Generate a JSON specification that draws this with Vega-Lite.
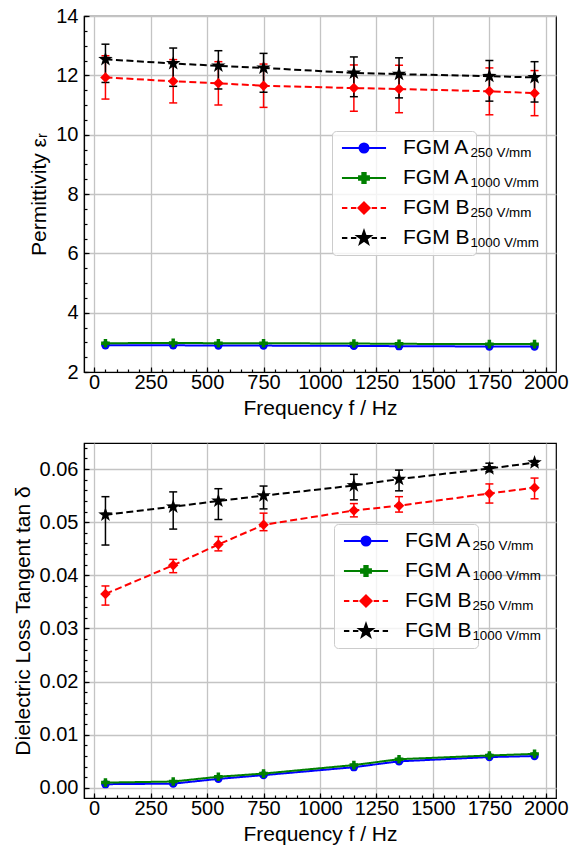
{
  "$schema": "https://vega.github.io/schema/vega-lite/v6.json",
  "background": "white",
  "padding": {"left": 11, "top": 5, "right": 0, "bottom": 0},
  "spacing": 23,
  "config": {
    "font": "Liberation Sans",
    "view": {"stroke": "black", "strokeWidth": 1.2},
    "axis": {
      "labelFont": "Liberation Sans", "labelFontSize": 20, "labelColor": "black",
      "titleFont": "Liberation Sans", "titleFontSize": 21, "titleFontWeight": "normal", "titleColor": "black",
      "domainColor": "black", "domainWidth": 1.2, "tickColor": "black", "tickWidth": 1.2,
      "gridColor": "#c4c4c4", "gridWidth": 1.3, "grid": true
    },
    "legend": {"labelFont": "Liberation Sans", "labelColor": "black"}
  },
  "datasets": {
    "perm": [
      {"freq": 50, "key": "A250", "series": "FGM A250 V/mm", "value": 2.90},
      {"freq": 350, "key": "A250", "series": "FGM A250 V/mm", "value": 2.90},
      {"freq": 550, "key": "A250", "series": "FGM A250 V/mm", "value": 2.89},
      {"freq": 750, "key": "A250", "series": "FGM A250 V/mm", "value": 2.89},
      {"freq": 1150, "key": "A250", "series": "FGM A250 V/mm", "value": 2.88},
      {"freq": 1350, "key": "A250", "series": "FGM A250 V/mm", "value": 2.87},
      {"freq": 1750, "key": "A250", "series": "FGM A250 V/mm", "value": 2.86},
      {"freq": 1950, "key": "A250", "series": "FGM A250 V/mm", "value": 2.86},
      {"freq": 50, "key": "A1000", "series": "FGM A1000 V/mm", "value": 2.97},
      {"freq": 350, "key": "A1000", "series": "FGM A1000 V/mm", "value": 2.98},
      {"freq": 550, "key": "A1000", "series": "FGM A1000 V/mm", "value": 2.97},
      {"freq": 750, "key": "A1000", "series": "FGM A1000 V/mm", "value": 2.97},
      {"freq": 1150, "key": "A1000", "series": "FGM A1000 V/mm", "value": 2.96},
      {"freq": 1350, "key": "A1000", "series": "FGM A1000 V/mm", "value": 2.95},
      {"freq": 1750, "key": "A1000", "series": "FGM A1000 V/mm", "value": 2.94},
      {"freq": 1950, "key": "A1000", "series": "FGM A1000 V/mm", "value": 2.94},
      {"freq": 50, "key": "B250", "series": "FGM B250 V/mm", "value": 11.93, "lo": 11.20, "hi": 12.66},
      {"freq": 350, "key": "B250", "series": "FGM B250 V/mm", "value": 11.80, "lo": 11.07, "hi": 12.53},
      {"freq": 550, "key": "B250", "series": "FGM B250 V/mm", "value": 11.73, "lo": 11.00, "hi": 12.46},
      {"freq": 750, "key": "B250", "series": "FGM B250 V/mm", "value": 11.65, "lo": 10.92, "hi": 12.38},
      {"freq": 1150, "key": "B250", "series": "FGM B250 V/mm", "value": 11.57, "lo": 10.79, "hi": 12.35},
      {"freq": 1350, "key": "B250", "series": "FGM B250 V/mm", "value": 11.54, "lo": 10.74, "hi": 12.34},
      {"freq": 1750, "key": "B250", "series": "FGM B250 V/mm", "value": 11.46, "lo": 10.67, "hi": 12.25},
      {"freq": 1950, "key": "B250", "series": "FGM B250 V/mm", "value": 11.40, "lo": 10.64, "hi": 12.16},
      {"freq": 50, "key": "B1000", "series": "FGM B1000 V/mm", "value": 12.54, "lo": 11.76, "hi": 13.05},
      {"freq": 350, "key": "B1000", "series": "FGM B1000 V/mm", "value": 12.40, "lo": 11.63, "hi": 12.92},
      {"freq": 550, "key": "B1000", "series": "FGM B1000 V/mm", "value": 12.32, "lo": 11.54, "hi": 12.83},
      {"freq": 750, "key": "B1000", "series": "FGM B1000 V/mm", "value": 12.25, "lo": 11.43, "hi": 12.74},
      {"freq": 1150, "key": "B1000", "series": "FGM B1000 V/mm", "value": 12.08, "lo": 11.28, "hi": 12.62},
      {"freq": 1350, "key": "B1000", "series": "FGM B1000 V/mm", "value": 12.04, "lo": 11.24, "hi": 12.59},
      {"freq": 1750, "key": "B1000", "series": "FGM B1000 V/mm", "value": 11.97, "lo": 11.13, "hi": 12.50},
      {"freq": 1950, "key": "B1000", "series": "FGM B1000 V/mm", "value": 11.93, "lo": 11.10, "hi": 12.46}
    ],
    "loss": [
      {"freq": 50, "key": "A250", "series": "FGM A250 V/mm", "value": 0.0007},
      {"freq": 350, "key": "A250", "series": "FGM A250 V/mm", "value": 0.0008},
      {"freq": 550, "key": "A250", "series": "FGM A250 V/mm", "value": 0.0017},
      {"freq": 750, "key": "A250", "series": "FGM A250 V/mm", "value": 0.0024},
      {"freq": 1150, "key": "A250", "series": "FGM A250 V/mm", "value": 0.0039},
      {"freq": 1350, "key": "A250", "series": "FGM A250 V/mm", "value": 0.0050},
      {"freq": 1750, "key": "A250", "series": "FGM A250 V/mm", "value": 0.0058},
      {"freq": 1950, "key": "A250", "series": "FGM A250 V/mm", "value": 0.0060},
      {"freq": 50, "key": "A1000", "series": "FGM A1000 V/mm", "value": 0.0010},
      {"freq": 350, "key": "A1000", "series": "FGM A1000 V/mm", "value": 0.0012},
      {"freq": 550, "key": "A1000", "series": "FGM A1000 V/mm", "value": 0.0021},
      {"freq": 750, "key": "A1000", "series": "FGM A1000 V/mm", "value": 0.0027},
      {"freq": 1150, "key": "A1000", "series": "FGM A1000 V/mm", "value": 0.0043},
      {"freq": 1350, "key": "A1000", "series": "FGM A1000 V/mm", "value": 0.0054},
      {"freq": 1750, "key": "A1000", "series": "FGM A1000 V/mm", "value": 0.0061},
      {"freq": 1950, "key": "A1000", "series": "FGM A1000 V/mm", "value": 0.0064},
      {"freq": 50, "key": "B250", "series": "FGM B250 V/mm", "value": 0.0365, "lo": 0.0344, "hi": 0.0380},
      {"freq": 350, "key": "B250", "series": "FGM B250 V/mm", "value": 0.0419, "lo": 0.0405, "hi": 0.0430},
      {"freq": 550, "key": "B250", "series": "FGM B250 V/mm", "value": 0.0458, "lo": 0.0446, "hi": 0.0473},
      {"freq": 750, "key": "B250", "series": "FGM B250 V/mm", "value": 0.0495, "lo": 0.0484, "hi": 0.0517},
      {"freq": 1150, "key": "B250", "series": "FGM B250 V/mm", "value": 0.0522, "lo": 0.0510, "hi": 0.0535},
      {"freq": 1350, "key": "B250", "series": "FGM B250 V/mm", "value": 0.0531, "lo": 0.0519, "hi": 0.0548},
      {"freq": 1750, "key": "B250", "series": "FGM B250 V/mm", "value": 0.0554, "lo": 0.0536, "hi": 0.0572},
      {"freq": 1950, "key": "B250", "series": "FGM B250 V/mm", "value": 0.0565, "lo": 0.0544, "hi": 0.0583},
      {"freq": 50, "key": "B1000", "series": "FGM B1000 V/mm", "value": 0.0514, "lo": 0.0457, "hi": 0.0548},
      {"freq": 350, "key": "B1000", "series": "FGM B1000 V/mm", "value": 0.0529, "lo": 0.0487, "hi": 0.0557},
      {"freq": 550, "key": "B1000", "series": "FGM B1000 V/mm", "value": 0.0540, "lo": 0.0505, "hi": 0.0563},
      {"freq": 750, "key": "B1000", "series": "FGM B1000 V/mm", "value": 0.0550, "lo": 0.0525, "hi": 0.0568},
      {"freq": 1150, "key": "B1000", "series": "FGM B1000 V/mm", "value": 0.0569, "lo": 0.0542, "hi": 0.0590},
      {"freq": 1350, "key": "B1000", "series": "FGM B1000 V/mm", "value": 0.0581, "lo": 0.0559, "hi": 0.0598},
      {"freq": 1750, "key": "B1000", "series": "FGM B1000 V/mm", "value": 0.0601, "lo": 0.0595, "hi": 0.0611},
      {"freq": 1950, "key": "B1000", "series": "FGM B1000 V/mm", "value": 0.0612, "lo": 0.0608, "hi": 0.0616}
    ]
  },
  "resolve": {
    "scale": {"color": "independent", "stroke": "independent", "strokeDash": "independent", "shape": "independent"},
    "legend": {"color": "independent", "stroke": "independent", "strokeDash": "independent", "shape": "independent"}
  },
  "vconcat": [
    {
      "width": 472, "height": 356,
      "data": {"name": "perm"},
      "resolve": {"axis": {"x": "independent", "y": "independent"}},
      "layer": [
        {
          "encoding": {
            "x": {"field": "freq", "type": "quantitative", "scale": {"domain": [-45, 2045], "nice": false, "zero": false},
                  "axis": {"values": [0, 250, 500, 750, 1000, 1250, 1500, 1750, 2000], "format": "d", "title": "Frequency f / Hz", "tickSize": -5, "labelPadding": 5, "titlePadding": 5}},
            "y": {"field": "value", "type": "quantitative", "title": "Permittivity εᵣ", "scale": {"domain": [2, 14], "nice": false, "zero": false},
                  "axis": {"values": [2, 4, 6, 8, 10, 12, 14], "format": "d", "tickSize": -5, "labelPadding": 11, "titlePadding": 6}}
          },
          "layer": [
            {
              "mark": {"type": "line", "strokeWidth": 2},
              "encoding": {
                "color": {"field": "series", "type": "nominal",
                  "scale": {"domain": ["FGM A250 V/mm", "FGM A1000 V/mm", "FGM B250 V/mm", "FGM B1000 V/mm"], "range": ["#0000ff", "#008000", "#ff0000", "#000000"]}},
                "strokeDash": {"field": "key", "type": "nominal",
                  "scale": {"domain": ["A250", "A1000", "B250", "B1000"], "range": [[1, 0], [1, 0], [7, 3.5], [7, 3.5]]},
                  "legend": {"orient": "none", "legendX": 373, "legendY": 126, "title": null, "padding": 0,
                    "symbolSize": 81, "symbolOpacity": 0, "symbolStrokeColor": "transparent", "labelOffset": 0, "labelFontSize": 13.4, "labelLimit": 0,
                    "clipHeight": 22, "rowPadding": 8,
                    "labelExpr": "slice(datum.label, 1) + ' V/mm'"}}
              }
            },
            {
              "transform": [{"filter": "datum.key === 'B250'"}],
              "mark": {"type": "errorbar", "ticks": {"opacity": 1}, "rule": {"opacity": 1}, "size": 8, "thickness": 1.5, "color": "#ff0000"},
              "encoding": {"y": {"field": "lo", "type": "quantitative", "title": "Permittivity εᵣ"}, "y2": {"field": "hi"}}
            },
            {
              "transform": [{"filter": "datum.key === 'B1000'"}],
              "mark": {"type": "errorbar", "ticks": {"opacity": 1}, "rule": {"opacity": 1}, "size": 8, "thickness": 1.5, "color": "#000000"},
              "encoding": {"y": {"field": "lo", "type": "quantitative", "title": "Permittivity εᵣ"}, "y2": {"field": "hi"}}
            },
            {"transform": [{"filter": "datum.key === 'A250'"}], "mark": {"type": "point", "shape": "circle", "size": 70, "filled": true, "opacity": 1, "color": "#0000ff"}},
            {"transform": [{"filter": "datum.key === 'A1000'"}], "mark": {"type": "point", "shape": "cross", "size": 75, "filled": true, "opacity": 1, "color": "#008000"}},
            {"transform": [{"filter": "datum.key === 'B250'"}], "mark": {"type": "point", "shape": "M0,-1L1,0L0,1L-1,0Z", "size": 110, "filled": true, "opacity": 1, "color": "#ff0000"}},
            {"transform": [{"filter": "datum.key === 'B1000'"}], "mark": {"type": "point", "shape": "M0,-1L0.235,-0.324L0.951,-0.309L0.38,0.124L0.588,0.809L0,0.4L-0.588,0.809L-0.38,0.124L-0.951,-0.309L-0.235,-0.324Z", "size": 230, "filled": true, "opacity": 1, "color": "#000000"}},
            {
              "mark": {"type": "point", "filled": true, "opacity": 0, "size": 81, "strokeWidth": 2},
              "encoding": {
                "color": {"field": "series", "type": "nominal",
                  "legend": {"orient": "none", "legendX": 248, "legendY": 115, "title": null, "padding": 6,
                    "fillColor": "rgba(255,255,255,0.8)", "strokeColor": "#cccccc", "cornerRadius": 4,
                    "symbolSize": 81, "symbolOffset": 15.5, "symbolStrokeWidth": 2, "symbolOpacity": 1,
                    "labelOffset": 28.5, "labelFontSize": 21, "labelLimit": 0, "clipHeight": 22, "rowPadding": 8,
                    "labelExpr": "slice(datum.label, 0, 5) + '\u00a0\u00a0\u00a0\u00a0\u00a0\u00a0\u00a0\u00a0\u00a0\u00a0\u00a0\u00a0\u00a0\u00a0\u00a0'"}},
                "stroke": {"field": "series", "type": "nominal",
                  "scale": {"domain": ["FGM A250 V/mm", "FGM A1000 V/mm", "FGM B250 V/mm", "FGM B1000 V/mm"], "range": ["#0000ff", "#008000", "#ff0000", "#000000"]},
                  "legend": {"orient": "none", "legendX": 248, "legendY": 115, "title": null, "padding": 6,
                    "fillColor": "rgba(255,255,255,0.8)", "strokeColor": "#cccccc", "cornerRadius": 4,
                    "symbolSize": 81, "symbolOffset": 15.5, "symbolStrokeWidth": 2, "symbolOpacity": 1,
                    "labelOffset": 28.5, "labelFontSize": 21, "labelLimit": 0, "clipHeight": 22, "rowPadding": 8,
                    "labelExpr": "slice(datum.label, 0, 5) + '\u00a0\u00a0\u00a0\u00a0\u00a0\u00a0\u00a0\u00a0\u00a0\u00a0\u00a0\u00a0\u00a0\u00a0\u00a0'"}},
                "shape": {"field": "series", "type": "nominal",
                  "scale": {"domain": ["FGM A250 V/mm", "FGM A1000 V/mm", "FGM B250 V/mm", "FGM B1000 V/mm"],
                    "range": [
                      "M-4.9,0L4.9,0M1,0A1,1,0,1,1,-1,0A1,1,0,1,1,1,0Z",
                      "M-4.9,0L4.9,0M-0.37,-1.1L0.37,-1.1L0.37,-0.37L1.1,-0.37L1.1,0.37L0.37,0.37L0.37,1.1L-0.37,1.1L-0.37,0.37L-1.1,0.37L-1.1,-0.37L-0.37,-0.37Z",
                      "M-4.9,0L-3.7,0M-2.9,0L-1.7,0M1.7,0L2.9,0M3.7,0L4.9,0M0,-1.25L1.25,0L0,1.25L-1.25,0Z",
                      "M-4.9,0L-3.7,0M-2.9,0L-1.7,0M1.7,0L2.9,0M3.7,0L4.9,0M0,-1.55L0.364,-0.502L1.474,-0.479L0.589,0.192L0.911,1.254L0,0.62L-0.911,1.254L-0.589,0.192L-1.474,-0.479L-0.364,-0.502Z"]},
                  "legend": {"orient": "none", "legendX": 248, "legendY": 115, "title": null, "padding": 6,
                    "fillColor": "rgba(255,255,255,0.8)", "strokeColor": "#cccccc", "cornerRadius": 4,
                    "symbolSize": 81, "symbolOffset": 15.5, "symbolStrokeWidth": 2, "symbolOpacity": 1,
                    "labelOffset": 28.5, "labelFontSize": 21, "labelLimit": 0, "clipHeight": 22, "rowPadding": 8,
                    "labelExpr": "slice(datum.label, 0, 5) + '\u00a0\u00a0\u00a0\u00a0\u00a0\u00a0\u00a0\u00a0\u00a0\u00a0\u00a0\u00a0\u00a0\u00a0\u00a0'"}}
              }
            }
          ]
        },
        {
          "mark": {"type": "point", "opacity": 0},
          "encoding": {
            "x": {"field": "freq", "type": "quantitative",
                  "axis": {"orient": "bottom", "values": [0, 50, 100, 150, 200, 250, 300, 350, 400, 450, 500, 550, 600, 650, 700, 750, 800, 850, 900, 950, 1000, 1050, 1100, 1150, 1200, 1250, 1300, 1350, 1400, 1450, 1500, 1550, 1600, 1650, 1700, 1750, 1800, 1850, 1900, 1950, 2000], "labels": false, "grid": false, "domain": false, "tickSize": -3, "title": null}},
            "y": {"field": "value", "type": "quantitative",
                  "axis": {"orient": "left", "values": [2, 2.5, 3, 3.5, 4, 4.5, 5, 5.5, 6, 6.5, 7, 7.5, 8, 8.5, 9, 9.5, 10, 10.5, 11, 11.5, 12, 12.5, 13, 13.5, 14], "labels": false, "grid": false, "domain": false, "tickSize": -3, "title": null}}
          }
        }
      ]
    },
    {
      "width": 472, "height": 355,
      "data": {"name": "loss"},
      "resolve": {"axis": {"x": "independent", "y": "independent"}},
      "layer": [
        {
          "encoding": {
            "x": {"field": "freq", "type": "quantitative", "scale": {"domain": [-45, 2045], "nice": false, "zero": false},
                  "axis": {"values": [0, 250, 500, 750, 1000, 1250, 1500, 1750, 2000], "format": "d", "title": "Frequency f / Hz", "tickSize": -5, "labelPadding": 5, "titlePadding": 5}},
            "y": {"field": "value", "type": "quantitative", "title": "Dielectric Loss Tangent tan δ", "scale": {"domain": [-0.0019, 0.0649], "nice": false, "zero": false},
                  "axis": {"values": [0, 0.01, 0.02, 0.03, 0.04, 0.05, 0.06], "format": ".2f", "tickSize": -5, "labelPadding": 11, "titlePadding": 6}}
          },
          "layer": [
            {
              "mark": {"type": "line", "strokeWidth": 2},
              "encoding": {
                "color": {"field": "series", "type": "nominal",
                  "scale": {"domain": ["FGM A250 V/mm", "FGM A1000 V/mm", "FGM B250 V/mm", "FGM B1000 V/mm"], "range": ["#0000ff", "#008000", "#ff0000", "#000000"]}},
                "strokeDash": {"field": "key", "type": "nominal",
                  "scale": {"domain": ["A250", "A1000", "B250", "B1000"], "range": [[1, 0], [1, 0], [7, 3.5], [7, 3.5]]},
                  "legend": {"orient": "none", "legendX": 375, "legendY": 92, "title": null, "padding": 0,
                    "symbolSize": 81, "symbolOpacity": 0, "symbolStrokeColor": "transparent", "labelOffset": 0, "labelFontSize": 13.4, "labelLimit": 0,
                    "clipHeight": 22, "rowPadding": 8,
                    "labelExpr": "slice(datum.label, 1) + ' V/mm'"}}
              }
            },
            {
              "transform": [{"filter": "datum.key === 'B250'"}],
              "mark": {"type": "errorbar", "ticks": {"opacity": 1}, "rule": {"opacity": 1}, "size": 8, "thickness": 1.5, "color": "#ff0000"},
              "encoding": {"y": {"field": "lo", "type": "quantitative", "title": "Dielectric Loss Tangent tan δ"}, "y2": {"field": "hi"}}
            },
            {
              "transform": [{"filter": "datum.key === 'B1000'"}],
              "mark": {"type": "errorbar", "ticks": {"opacity": 1}, "rule": {"opacity": 1}, "size": 8, "thickness": 1.5, "color": "#000000"},
              "encoding": {"y": {"field": "lo", "type": "quantitative", "title": "Dielectric Loss Tangent tan δ"}, "y2": {"field": "hi"}}
            },
            {"transform": [{"filter": "datum.key === 'A250'"}], "mark": {"type": "point", "shape": "circle", "size": 70, "filled": true, "opacity": 1, "color": "#0000ff"}},
            {"transform": [{"filter": "datum.key === 'A1000'"}], "mark": {"type": "point", "shape": "cross", "size": 75, "filled": true, "opacity": 1, "color": "#008000"}},
            {"transform": [{"filter": "datum.key === 'B250'"}], "mark": {"type": "point", "shape": "M0,-1L1,0L0,1L-1,0Z", "size": 110, "filled": true, "opacity": 1, "color": "#ff0000"}},
            {"transform": [{"filter": "datum.key === 'B1000'"}], "mark": {"type": "point", "shape": "M0,-1L0.235,-0.324L0.951,-0.309L0.38,0.124L0.588,0.809L0,0.4L-0.588,0.809L-0.38,0.124L-0.951,-0.309L-0.235,-0.324Z", "size": 230, "filled": true, "opacity": 1, "color": "#000000"}},
            {
              "mark": {"type": "point", "filled": true, "opacity": 0, "size": 81, "strokeWidth": 2},
              "encoding": {
                "color": {"field": "series", "type": "nominal",
                  "legend": {"orient": "none", "legendX": 250, "legendY": 81, "title": null, "padding": 6,
                    "fillColor": "rgba(255,255,255,0.8)", "strokeColor": "#cccccc", "cornerRadius": 4,
                    "symbolSize": 81, "symbolOffset": 15.5, "symbolStrokeWidth": 2, "symbolOpacity": 1,
                    "labelOffset": 28.5, "labelFontSize": 21, "labelLimit": 0, "clipHeight": 22, "rowPadding": 8,
                    "labelExpr": "slice(datum.label, 0, 5) + '\u00a0\u00a0\u00a0\u00a0\u00a0\u00a0\u00a0\u00a0\u00a0\u00a0\u00a0\u00a0\u00a0\u00a0\u00a0'"}},
                "stroke": {"field": "series", "type": "nominal",
                  "scale": {"domain": ["FGM A250 V/mm", "FGM A1000 V/mm", "FGM B250 V/mm", "FGM B1000 V/mm"], "range": ["#0000ff", "#008000", "#ff0000", "#000000"]},
                  "legend": {"orient": "none", "legendX": 250, "legendY": 81, "title": null, "padding": 6,
                    "fillColor": "rgba(255,255,255,0.8)", "strokeColor": "#cccccc", "cornerRadius": 4,
                    "symbolSize": 81, "symbolOffset": 15.5, "symbolStrokeWidth": 2, "symbolOpacity": 1,
                    "labelOffset": 28.5, "labelFontSize": 21, "labelLimit": 0, "clipHeight": 22, "rowPadding": 8,
                    "labelExpr": "slice(datum.label, 0, 5) + '\u00a0\u00a0\u00a0\u00a0\u00a0\u00a0\u00a0\u00a0\u00a0\u00a0\u00a0\u00a0\u00a0\u00a0\u00a0'"}},
                "shape": {"field": "series", "type": "nominal",
                  "scale": {"domain": ["FGM A250 V/mm", "FGM A1000 V/mm", "FGM B250 V/mm", "FGM B1000 V/mm"],
                    "range": [
                      "M-4.9,0L4.9,0M1,0A1,1,0,1,1,-1,0A1,1,0,1,1,1,0Z",
                      "M-4.9,0L4.9,0M-0.37,-1.1L0.37,-1.1L0.37,-0.37L1.1,-0.37L1.1,0.37L0.37,0.37L0.37,1.1L-0.37,1.1L-0.37,0.37L-1.1,0.37L-1.1,-0.37L-0.37,-0.37Z",
                      "M-4.9,0L-3.7,0M-2.9,0L-1.7,0M1.7,0L2.9,0M3.7,0L4.9,0M0,-1.25L1.25,0L0,1.25L-1.25,0Z",
                      "M-4.9,0L-3.7,0M-2.9,0L-1.7,0M1.7,0L2.9,0M3.7,0L4.9,0M0,-1.55L0.364,-0.502L1.474,-0.479L0.589,0.192L0.911,1.254L0,0.62L-0.911,1.254L-0.589,0.192L-1.474,-0.479L-0.364,-0.502Z"]},
                  "legend": {"orient": "none", "legendX": 250, "legendY": 81, "title": null, "padding": 6,
                    "fillColor": "rgba(255,255,255,0.8)", "strokeColor": "#cccccc", "cornerRadius": 4,
                    "symbolSize": 81, "symbolOffset": 15.5, "symbolStrokeWidth": 2, "symbolOpacity": 1,
                    "labelOffset": 28.5, "labelFontSize": 21, "labelLimit": 0, "clipHeight": 22, "rowPadding": 8,
                    "labelExpr": "slice(datum.label, 0, 5) + '\u00a0\u00a0\u00a0\u00a0\u00a0\u00a0\u00a0\u00a0\u00a0\u00a0\u00a0\u00a0\u00a0\u00a0\u00a0'"}}
              }
            }
          ]
        },
        {
          "mark": {"type": "point", "opacity": 0},
          "encoding": {
            "x": {"field": "freq", "type": "quantitative",
                  "axis": {"orient": "bottom", "values": [0, 50, 100, 150, 200, 250, 300, 350, 400, 450, 500, 550, 600, 650, 700, 750, 800, 850, 900, 950, 1000, 1050, 1100, 1150, 1200, 1250, 1300, 1350, 1400, 1450, 1500, 1550, 1600, 1650, 1700, 1750, 1800, 1850, 1900, 1950, 2000], "labels": false, "grid": false, "domain": false, "tickSize": -3, "title": null}},
            "y": {"field": "value", "type": "quantitative",
                  "axis": {"orient": "left", "values": [0, 0.002, 0.004, 0.006, 0.008, 0.01, 0.012, 0.014, 0.016, 0.018, 0.02, 0.022, 0.024, 0.026, 0.028, 0.03, 0.032, 0.034, 0.036, 0.038, 0.04, 0.042, 0.044, 0.046, 0.048, 0.05, 0.052, 0.054, 0.056, 0.058, 0.06, 0.062, 0.064], "labels": false, "grid": false, "domain": false, "tickSize": -3, "title": null}}
          }
        }
      ]
    }
  ]
}
